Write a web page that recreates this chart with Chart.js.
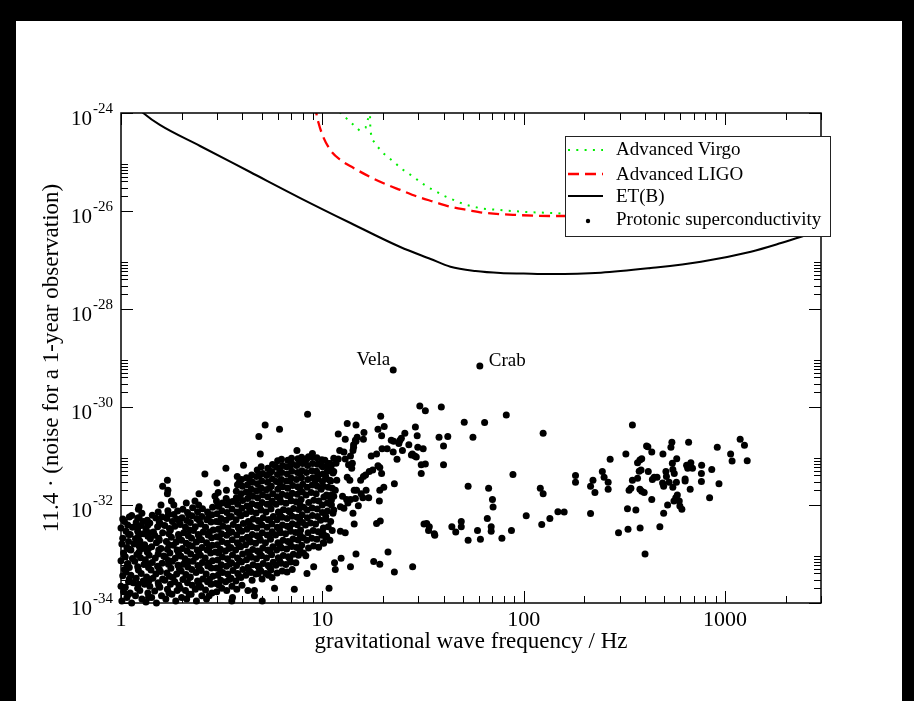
<!DOCTYPE html>
<html>
<head>
<meta charset="utf-8">
<script src="https://cdn.jsdelivr.net/npm/chart.js@4.4.1/dist/chart.umd.min.js"></script>
<style>
html,body{margin:0;padding:0;background:#fff;}
canvas{display:block;}
</style>
</head>
<body>
<canvas id="myChart" width="914" height="701"></canvas>
<script>
// detector noise curves, [frequency Hz, strain]
const virgoCurve = [[11.8,1.5e-24],[12.3,1e-24],[13.3,7.5e-25],[14.3,5.7e-25],[15.3,4.4e-25],[16.4,5e-25],[16.8,7.2e-25],[17.13,9.1e-25],[17.22,1.4e-24],[17.33,4.3e-25],[17.7,2.9e-25],[18.7,2.12e-25],[19.95,1.55e-25],[21.4,1.22e-25],[23.1,9.4e-26],[24.6,7.4e-26],[26.7,5.9e-26],[29,4.65e-26],[31.3,3.67e-26],[33.8,2.99e-26],[36.9,2.48e-26],[40.1,2.05e-26],[43.7,1.76e-26],[47.7,1.51e-26],[52,1.33e-26],[57,1.21e-26],[63,1.11e-26],[69,1.08e-26],[76,1.05e-26],[83.5,1.01e-26],[92.3,9.86e-27],[101,9.55e-27],[112,9.4e-27],[122,9.3e-27],[135,9.1e-27],[148,9e-27],[162,8.6e-27],[250,8.5e-27],[500,1e-26],[1000,1.5e-26]];
const ligoCurve = [[9.25,1.5e-24],[9.34,1e-24],[9.58,6.25e-25],[10.1,3.28e-25],[10.96,1.76e-25],[12.3,1.1e-25],[14.3,7.55e-26],[17.3,4.94e-26],[21.1,3.4e-26],[24.4,2.69e-26],[29.7,1.96e-26],[35.7,1.55e-26],[43.3,1.22e-26],[52.6,1.05e-26],[63.2,9.23e-27],[93.3,8.28e-27],[136,7.91e-27],[242,7.9e-27],[500,1e-26],[1000,1.6e-26]];
const etCurve = [[1.22,1.25e-24],[1.29,1e-24],[1.56,5.7e-25],[2.47,2.12e-25],[4.38,6.25e-26],[7.77,1.84e-26],[13.8,5.69e-27],[24.4,1.84e-27],[34.5,1.05e-27],[43.3,7.29e-28],[57.7,5.97e-28],[76.8,5.43e-28],[100,5.3e-28],[136,5.18e-28],[242,5.51e-28],[428,6.87e-28],[760,9.23e-28],[1346,1.48e-27],[1900,2.22e-27],[2390,2.99e-27],[3000,4.09e-27]];

// pulsars, [frequency Hz, strain]
const pulsarsLowFreq = [
[1.01,1.1e-34],[1.03,1.7e-34],[1.0,2.2e-34],[1.02,3.6e-34],[1.04,4.8e-34],[1.0,7.3e-34],[1.03,1.05e-33],[1.01,1.6e-33],[1.02,2.1e-33],[1.0,3.4e-33],[1.04,4.6e-33],
[1.07,1.3e-34],[1.05,2.1e-34],[1.09,2.7e-34],[1.06,4.3e-34],[1.08,6.4e-34],[1.05,8.8e-34],[1.07,1.35e-33],[1.09,1.8e-33],[1.06,2.9e-33],[1.08,3.9e-33],[1.1,5.7e-33],
[1.13,1e-34],[1.11,1.6e-34],[1.15,2.6e-34],[1.12,3.7e-34],[1.1,5.3e-34],[1.14,8.1e-34],[1.12,1.2e-33],[1.16,1.6e-33],[1.11,2.5e-33],[1.14,3.5e-33],[1.13,6.1e-33],
[1.18,1.4e-34],[1.21,2e-34],[1.19,3.2e-34],[1.22,4.7e-34],[1.17,7.1e-34],[1.2,9.8e-34],[1.23,1.45e-33],[1.18,2.05e-33],[1.21,2.9e-33],[1.19,4.4e-33],
[1.27,1.2e-34],[1.24,1.8e-34],[1.29,2.8e-34],[1.26,4e-34],[1.3,6.1e-34],[1.25,8.4e-34],[1.28,1.3e-33],[1.24,1.85e-33],[1.29,2.6e-33],[1.26,3.8e-33],[1.23,5.5e-33],[1.27,6.8e-33],
[1.33,1.05e-34],[1.36,1.6e-34],[1.31,2.4e-34],[1.34,3.4e-34],[1.37,5.3e-34],[1.32,7.6e-34],[1.35,1.1e-33],[1.31,1.55e-33],[1.36,2.3e-33],[1.33,3.3e-33],[1.35,4.9e-33],
[1.42,1.3e-34],[1.39,2.2e-34],[1.44,3.2e-34],[1.41,4.7e-34],[1.43,6.7e-34],[1.38,9.4e-34],[1.42,1.4e-33],[1.4,2.05e-33],[1.45,2.8e-33],[1.39,4.3e-33],[1.43,6.2e-33],
[1.5,1e-34],[1.47,1.75e-34],[1.53,2.6e-34],[1.49,3.9e-34],[1.52,5.6e-34],[1.48,8.3e-34],[1.54,1.2e-33],[1.5,1.7e-33],[1.47,2.4e-33],[1.52,3.6e-33],[1.49,5.4e-33],[1.53,7.2e-33],
[1.59,1.4e-34],[1.56,2.1e-34],[1.61,3.1e-34],[1.57,4.4e-34],[1.6,6.5e-34],[1.63,9.1e-34],[1.58,1.3e-33],[1.55,1.9e-33],[1.61,2.7e-33],[1.57,4.1e-33],[1.6,5.7e-33],
[1.67,1.2e-34],[1.7,1.9e-34],[1.65,2.9e-34],[1.69,4.1e-34],[1.72,6.2e-34],[1.66,8.7e-34],[1.7,1.25e-33],[1.68,1.8e-33],[1.73,2.6e-33],[1.65,3.8e-33],[1.69,5.3e-33],[1.71,7.6e-33],
[1.79,1.5e-34],[1.76,2.4e-34],[1.81,3.3e-34],[1.77,5.1e-34],[1.8,7.1e-34],[1.75,1.05e-33],[1.82,1.5e-33],[1.78,2.2e-33],[1.76,3.1e-33],[1.8,4.6e-33],[1.83,6.4e-33],
[1.87,1.1e-34],[1.9,1.8e-34],[1.85,2.7e-34],[1.89,3.9e-34],[1.92,5.9e-34],[1.86,8.2e-34],[1.9,1.2e-33],[1.88,1.75e-33],[1.93,2.5e-33],[1.85,3.7e-33],[1.89,5.2e-33],[1.91,7.5e-33],
[2.0,1.3e-34],[1.97,2e-34],[2.03,3e-34],[1.99,4.5e-34],[2.04,6.2e-34],[1.98,9.1e-34],[2.02,1.3e-33],[2.0,1.9e-33],[2.05,2.7e-33],[1.97,4e-33],[2.01,5.5e-33],[2.03,8.2e-33],
[2.12,1.2e-34],[2.09,1.8e-34],[2.14,2.6e-34],[2.1,3.8e-34],[2.15,5.4e-34],[2.08,8e-34],[2.13,1.15e-33],[2.11,1.65e-33],[2.16,2.35e-33],[2.09,3.5e-33],[2.12,4.8e-33],[2.14,7e-33],
[2.23,1.5e-34],[2.26,2.3e-34],[2.21,3.4e-34],[2.25,4.8e-34],[2.28,7.1e-34],[2.22,1e-33],[2.26,1.45e-33],[2.24,2.1e-33],[2.29,3e-33],[2.21,4.4e-33],[2.25,6e-33],[2.27,8.8e-33],
[2.37,1.1e-34],[2.34,1.9e-34],[2.4,2.8e-34],[2.36,4.2e-34],[2.41,5.8e-34],[2.35,8.6e-34],[2.39,1.2e-33],[2.37,1.75e-33],[2.42,2.5e-33],[2.34,3.6e-33],[2.38,5.3e-33],[2.4,7.3e-33],
[2.52,1.4e-34],[2.49,2.1e-34],[2.55,3.1e-34],[2.5,4.6e-34],[2.54,6.7e-34],[2.48,9.4e-34],[2.53,1.35e-33],[2.51,1.95e-33],[2.56,2.8e-33],[2.49,4.1e-33],[2.52,5.8e-33],[2.54,8.4e-33],
[2.66,1.2e-34],[2.63,1.85e-34],[2.69,2.7e-34],[2.65,3.9e-34],[2.7,5.7e-34],[2.62,8.3e-34],[2.68,1.2e-33],[2.66,1.7e-33],[2.71,2.45e-33],[2.63,3.5e-33],[2.67,5e-33],[2.69,7.2e-33],
[2.83,1.6e-34],[2.8,2.4e-34],[2.86,3.5e-34],[2.81,5.2e-34],[2.85,7.3e-34],[2.79,1.05e-33],[2.84,1.5e-33],[2.82,2.15e-33],[2.87,3.1e-33],[2.8,4.5e-33],[2.83,6.3e-33],[2.85,9e-33],
[2.99,1.7e-34],[2.96,2.5e-34],[3.03,3.7e-34],[2.98,5.2e-34],[3.02,7.5e-34],[2.95,1.1e-33],[3.01,1.55e-33],[2.99,2.25e-33],[3.04,3.2e-33],[2.97,4.6e-33],[3.0,6.6e-33],[3.02,9.4e-33],[2.98,1.2e-32],
[3.17,2e-34],[3.13,2.9e-34],[3.2,4.2e-34],[3.15,6e-34],[3.19,8.7e-34],[3.12,1.25e-33],[3.18,1.8e-33],[3.16,2.6e-33],[3.21,3.7e-33],[3.14,5.3e-33],[3.17,7.6e-33],[3.19,1.1e-32],
[3.35,1.8e-34],[3.31,2.7e-34],[3.39,3.9e-34],[3.34,5.6e-34],[3.38,8e-34],[3.3,1.15e-33],[3.37,1.65e-33],[3.35,2.4e-33],[3.4,3.4e-33],[3.32,4.9e-33],[3.36,7e-33],[3.38,1e-32],[3.33,1.35e-32],
[3.56,2.2e-34],[3.52,3.2e-34],[3.6,4.6e-34],[3.54,6.6e-34],[3.58,9.5e-34],[3.51,1.35e-33],[3.57,1.95e-33],[3.55,2.8e-33],[3.61,4e-33],[3.53,5.8e-33],[3.56,8.3e-33],[3.59,1.18e-32],
[3.76,1.9e-34],[3.72,2.8e-34],[3.8,4e-34],[3.75,5.8e-34],[3.79,8.3e-34],[3.71,1.2e-33],[3.78,1.7e-33],[3.76,2.45e-33],[3.82,3.5e-33],[3.73,5e-33],[3.77,7.2e-33],[3.8,1.03e-32],[3.74,1.4e-32],[3.74,1.9e-32],[3.79,2.6e-32],
[3.99,2.3e-34],[3.94,3.3e-34],[4.03,4.8e-34],[3.97,6.9e-34],[4.02,1e-33],[3.93,1.4e-33],[4.0,2e-33],[3.98,2.9e-33],[4.05,4.2e-33],[3.95,6e-33],[3.99,8.6e-33],[4.02,1.23e-32],[3.96,1.7e-32],[4.01,2.4e-32],[3.97,3.3e-32],
[4.17,3.7e-34],[4.27,5.3e-34],[4.2,7.6e-34],[4.26,1.1e-33],[4.16,1.55e-33],[4.24,2.2e-33],[4.22,3.2e-33],[4.29,4.6e-33],[4.18,6.6e-33],[4.23,9.5e-33],[4.26,1.35e-32],[4.19,1.85e-32],[4.25,2.6e-32],[4.2,3.6e-32],
[4.48,2.9e-34],[4.42,4.2e-34],[4.53,6e-34],[4.45,8.6e-34],[4.51,1.23e-33],[4.41,1.75e-33],[4.49,2.5e-33],[4.47,3.6e-33],[4.54,5.2e-33],[4.43,7.4e-33],[4.48,1.06e-32],[4.51,1.5e-32],[4.44,2.1e-32],[4.5,2.9e-32],[4.46,4.1e-32],
[4.67,3.9e-34],[4.79,5.6e-34],[4.71,8e-34],[4.77,1.15e-33],[4.66,1.65e-33],[4.75,2.35e-33],[4.73,3.4e-33],[4.8,4.8e-33],[4.69,6.9e-33],[4.74,9.9e-33],[4.77,1.4e-32],[4.7,1.95e-32],[4.76,2.7e-32],[4.71,3.8e-32],[4.75,5.2e-32],
[5.02,3.1e-34],[4.95,4.5e-34],[5.08,6.4e-34],[4.99,9.2e-34],[5.06,1.32e-33],[4.93,1.9e-33],[5.03,2.7e-33],[5.01,3.9e-33],[5.09,5.5e-33],[4.96,7.9e-33],[5.02,1.13e-32],[5.05,1.6e-32],[4.98,2.2e-32],[5.0,3.1e-32],[5.06,4.4e-32],[4.97,6e-32],
[5.24,4e-34],[5.38,5.8e-34],[5.28,8.3e-34],[5.36,1.2e-33],[5.22,1.7e-33],[5.33,2.45e-33],[5.31,3.5e-33],[5.39,5e-33],[5.25,7.2e-33],[5.32,1.03e-32],[5.35,1.47e-32],[5.27,2.05e-32],[5.34,2.9e-32],[5.29,4e-32],[5.36,5.6e-32],
[5.63,3.3e-34],[5.55,4.7e-34],[5.7,6.8e-34],[5.6,9.7e-34],[5.68,1.4e-33],[5.53,2e-33],[5.64,2.85e-33],[5.62,4.1e-33],[5.71,5.8e-33],[5.56,8.3e-33],[5.63,1.2e-32],[5.67,1.7e-32],[5.58,2.4e-32],[5.65,3.4e-32],[5.6,4.8e-32],[5.66,6.7e-32],
[5.96,4.1e-34],[5.88,5.9e-34],[6.04,8.4e-34],[5.93,1.2e-33],[6.02,1.7e-33],[5.86,2.45e-33],[5.98,3.5e-33],[5.96,5e-33],[6.05,7.2e-33],[5.89,1.03e-32],[5.97,1.47e-32],[6.01,2.1e-32],[5.91,3e-32],[5.99,4.2e-32],[5.92,5.9e-32],[6.0,8e-32],
[6.32,4.5e-34],[6.23,6.5e-34],[6.4,9.3e-34],[6.28,1.33e-33],[6.38,1.9e-33],[6.21,2.7e-33],[6.34,3.9e-33],[6.31,5.6e-33],[6.41,8e-33],[6.24,1.15e-32],[6.32,1.65e-32],[6.36,2.35e-32],[6.26,3.3e-32],[6.29,4.6e-32],[6.35,6.4e-32],[6.27,8.6e-32],
[6.68,4.3e-34],[6.59,6.1e-34],[6.78,8.8e-34],[6.65,1.26e-33],[6.75,1.8e-33],[6.57,2.6e-33],[6.7,3.7e-33],[6.68,5.3e-33],[6.79,7.6e-33],[6.6,1.09e-32],[6.69,1.56e-32],[6.73,2.2e-32],[6.63,3.1e-32],[6.7,4.3e-32],[6.64,6e-32],[6.74,8.2e-32],
[7.09,4.8e-34],[6.98,6.9e-34],[7.18,9.9e-34],[7.05,1.42e-33],[7.15,2.03e-33],[6.96,2.9e-33],[7.1,4.15e-33],[7.08,5.9e-33],[7.2,8.5e-33],[7.0,1.22e-32],[7.09,1.74e-32],[7.13,2.5e-32],[7.02,3.5e-32],[7.05,4.9e-32],[7.12,6.8e-32],[7.03,9e-32],
[7.39,6.6e-34],[7.61,9.4e-34],[7.46,1.35e-33],[7.58,1.93e-33],[7.37,2.75e-33],[7.52,3.95e-33],[7.5,5.6e-33],[7.63,8.1e-33],[7.41,1.16e-32],[7.51,1.66e-32],[7.55,2.35e-32],[7.44,3.3e-32],[7.53,4.6e-32],[7.46,6.4e-32],[7.56,8.8e-32],
[8.06,1.05e-33],[7.9,1.5e-33],[8.03,2.15e-33],[7.8,3.1e-33],[7.97,4.4e-33],[7.94,6.3e-33],[8.08,9e-33],[7.85,1.29e-32],[7.95,1.85e-32],[8.0,2.65e-32],[7.88,3.6e-32],[7.92,5e-32],[7.98,7e-32],[7.89,9.4e-32],
[8.28,9.2e-34],[8.54,1.32e-33],[8.37,1.9e-33],[8.5,2.7e-33],[8.25,3.9e-33],[8.43,5.5e-33],[8.41,7.9e-33],[8.56,1.13e-32],[8.31,1.6e-32],[8.42,2.3e-32],[8.47,3.3e-32],[8.34,4.6e-32],[8.45,6.4e-32],[8.38,8.8e-32],
[9.05,1.45e-33],[8.87,2.1e-33],[9.01,3e-33],[8.74,4.3e-33],[8.93,6.1e-33],[8.91,8.7e-33],[9.07,1.25e-32],[8.8,1.8e-32],[8.92,2.55e-32],[8.97,3.6e-32],[8.88,5e-32],[8.95,7e-32],[8.85,9.5e-32],
[9.59,1.38e-33],[9.4,2e-33],[9.55,2.85e-33],[9.26,4.1e-33],[9.46,5.8e-33],[9.44,8.3e-33],[9.61,1.2e-32],[9.32,1.7e-32],[9.45,2.4e-32],[9.5,3.45e-32],[9.36,4.9e-32],[9.47,6.8e-32],[9.4,9.2e-32],
[10.16,1.65e-33],[9.96,2.4e-33],[10.12,3.4e-33],[9.81,4.9e-33],[10.02,7e-33],[10.0,1e-32],[10.18,1.45e-32],[9.87,2.1e-32],[10.01,3e-32],[10.06,4.3e-32],[10.04,6e-32],[9.95,8.4e-32],
[10.5,2.3e-33],[10.7,3.6e-33],[10.4,5.2e-33],[10.6,7.5e-33],[10.8,1.1e-32],[10.5,1.6e-32],[10.7,2.3e-32],[10.4,3.4e-32],[10.6,4.9e-32],[10.8,7e-32],
[11.2,3e-33],[11.0,4.6e-33],[11.3,6.8e-33],[11.1,1e-32],[11.4,1.5e-32],[11.2,2.2e-32],[11.0,3.1e-32],[11.3,4.5e-32],[11.1,6.5e-32],[11.4,9e-32],
[3.32,5.6e-32],[2.61,4.3e-32],[1.7,3.2e-32],[1.61,2.4e-32],[1.71,2e-32],[1.7,1.7e-32],[3.0,2.8e-32],[3.34,2e-32],[2.44,1.7e-32],[1.78,1.2e-32],[1.83,1e-32],[2.11,1.1e-32],[1.58,1e-32],[1.23,9.2e-33],[1.22,8.2e-33],[3.04,1.8e-32],[2.93,1.5e-32],[2.33,1.2e-32],[1.02,5.2e-33],[1.21,5.4e-33],[1.29,4.6e-33],
[8.45,7.1e-31],[5.2,4.3e-31],[6.13,3.5e-31],[4.84,2.5e-31],[4.92,1.1e-31],[7.48,1.3e-31],[4.06,6.5e-32],[3.78,3.8e-32],
[4.27,1.8e-34],[4.6,1.8e-34],[4.6,1.4e-34],[5.79,2e-34],[7.26,1.9e-34],[5.03,1.1e-34],[3.55,1.1e-34],[3.58,1.3e-34],[8.39,4e-34],[9.06,5.5e-34],[5.4,3.7e-34],[4.8,4e-34],
[8.93,1.13e-31],[8.54,9.7e-32],[8.24,8e-32],[9.96,6.3e-32],[10.9,7e-32],[11.4,4.8e-32],[9.5,4.1e-32],[9.2,2.8e-32],[11.1,1.26e-32],
[1.09,1.5e-34],[1.1,3.1e-34],[1.08,6.2e-34],[1.1,1.25e-33],[1.09,2.5e-33],
[1.22,2.4e-34],[1.21,5.5e-34],[1.23,1.1e-33],[1.22,2.3e-33],[1.21,3.4e-33],
[1.37,1.3e-34],[1.38,2.9e-34],[1.36,6.3e-34],[1.37,1.3e-33],[1.38,2.7e-33],[1.36,3.9e-33],
[1.54,2.3e-34],[1.55,4.9e-34],[1.53,1e-33],[1.54,2.1e-33],[1.55,4.4e-33],
[1.73,1.6e-34],[1.74,3.5e-34],[1.72,7.4e-34],[1.73,1.55e-33],[1.74,3.3e-33],[1.72,6.5e-33],
[1.94,2.3e-34],[1.95,5e-34],[1.93,1.05e-33],[1.94,2.2e-33],[1.95,4.6e-33],
[2.18,1.5e-34],[2.19,3.3e-34],[2.17,7e-34],[2.18,1.5e-33],[2.19,3.1e-33],[2.17,6.3e-33],
[2.44,2.4e-34],[2.45,5.2e-34],[2.43,1.1e-33],[2.44,2.3e-33],[2.45,4.8e-33],[2.43,1e-32],
[2.74,1.4e-34],[2.75,3e-34],[2.73,6.5e-34],[2.74,1.35e-33],[2.75,2.8e-33],[2.73,5.9e-33],
[3.07,2.3e-34],[3.08,5e-34],[3.06,1.05e-33],[3.07,2.2e-33],[3.08,4.5e-33],[3.06,9.5e-33],
[3.45,3e-34],[3.46,6.2e-34],[3.44,1.3e-33],[3.45,2.7e-33],[3.46,5.6e-33],[3.44,1.15e-32],
[3.87,3.5e-34],[3.88,7.3e-34],[3.86,1.5e-33],[3.87,3.2e-33],[3.88,6.6e-33],[3.86,1.4e-32],[3.87,2.9e-32],
[4.34,4.5e-34],[4.35,9.5e-34],[4.33,2e-33],[4.34,4.1e-33],[4.35,8.5e-33],[4.33,1.75e-32],[4.34,3.4e-32],
[4.87,5e-34],[4.88,1.05e-33],[4.86,2.2e-33],[4.87,4.6e-33],[4.88,9.6e-33],[4.86,2e-32],[4.87,4e-32],
[5.47,5.4e-34],[5.48,1.15e-33],[5.46,2.4e-33],[5.47,5e-33],[5.48,1.05e-32],[5.46,2.2e-32],[5.47,4.5e-32],
[6.14,7.2e-34],[6.15,1.5e-33],[6.13,3.1e-33],[6.14,6.5e-33],[6.15,1.35e-32],[6.13,2.8e-32],[6.14,5.5e-32],
[6.89,8e-34],[6.9,1.7e-33],[6.88,3.5e-33],[6.89,7.2e-33],[6.9,1.5e-32],[6.88,3.1e-32],[6.89,6.2e-32],
[7.73,1.2e-33],[7.74,2.5e-33],[7.72,5.1e-33],[7.73,1.05e-32],[7.74,2.2e-32],[7.72,4.4e-32],[7.73,8e-32]
];
const pulsarsMidFreq = [
[30.5,1.05e-30],[32.5,8.4e-31],[39,1e-30],[29,3.9e-31],[29.6,2.6e-31],[29.8,1.5e-31],[31.7,1.4e-31],[31,6.6e-32],[32.5,6.9e-32],[31,4.4e-32],[25.7,2.9e-31],[26.9,1.7e-31],[22.8,2.7e-32],[28.1,5.5e-34],[22.8,4.3e-34],[21.2,1.1e-33],[19.3,6.2e-34],[18,7e-34],[14.7,1e-33],[13.8,5.5e-34],[12.4,8.2e-34],[11.5,6.6e-34],[11.6,4.8e-34],[10.8,2e-34],
[50.7,4.9e-31],[64,4.8e-31],[82,6.9e-31],[56,2.4e-31],[38,2.4e-31],[42,2.5e-31],[40,1.6e-31],[40,6.6e-32],[88.5,4.2e-32],[53,2.4e-32],[67,2.2e-32],[70,1.3e-32],[70.5,9.1e-33],[66,5.3e-33],[69,3.6e-33],[69,2.9e-33],[87,3e-33],[78,2.1e-33],[61,2e-33],[59,3e-33],[53,1.9e-33],[49,4.6e-33],[49,3.6e-33],[46,2.8e-33],[44,3.6e-33],[36,2.6e-33],[36.2,2.4e-33],[34,3.6e-33],[33,4.2e-33],[32,4.1e-33],[33.7,3e-33],
[19.4,4.7e-33],[18.6,4.2e-33],[19.2,1.2e-32],[19.3,2e-32],[20.2,2.3e-32],[19.7,4.4e-32],[19.7,2.6e-31],[20.3,4e-31],[19.5,6.5e-31],[18.9,3.5e-31],[14.7,4.3e-31],[13.3,4.6e-31],[16.1,3e-31],[16,2.2e-31],[14.9,2.4e-31],[14.7,2e-31],[13,2.2e-31],[12,2.8e-31],[14.3,1.5e-31],
[24.3,2.1e-31],[24,1.8e-31],[22.6,2e-31],[22,2.1e-31],[24.7,2.3e-31],[21,1.4e-31],[19.8,1.4e-31],[22.5,1.2e-31],[23.5,8.6e-32],[25,1.3e-31],[28.8,1e-31],[28,1.1e-31],[29.3,9.5e-32],[27.7,1.05e-31],
[17.5,1e-31],[18.6,1.1e-31],[18.9,6.3e-32],[19.3,5.8e-32],[17.8,5.2e-32],[17.1,4.8e-32],[16.4,4.1e-32],[16,3.8e-32],[15.5,3.2e-32],[14.4,2e-32],[14.8,2e-32],[16.5,2e-32],[17,1.4e-32],[15.9,1.4e-32],[15.1,9.7e-33],[14.2,6.8e-33],[14.4,4.1e-33],[12.3,2.9e-33],[13,2.7e-33],[10.9,1.9e-33],[10.4,2.2e-33],[10.1,2.6e-33],
[12.8,8.6e-33],[13.2,1.3e-32],[13.4,1.1e-32],[12.3,9.2e-33],[12.6,1.5e-32],[13.8,1.3e-32],[14.6,1.35e-32],[15.6,1.7e-32],[13.7,3.2e-32],[13.3,3.7e-32],[13.5,6.6e-32],[14.1,7.1e-32],[14,5.6e-32],[13,8.7e-32],[12,8.7e-32],[12.2,1.3e-31],[12.8,1.2e-31],[13.8,1e-31],[14.2,1.3e-31],[14.3,1.7e-31],[14.6,2.1e-31],
[10.3,8.2e-32],[10.6,6.3e-32],[10.9,3.2e-32],[10.1,2.4e-32],[11.1,1.6e-32],[10.6,1.1e-32],[11.4,7.9e-33],[10.4,5.8e-33],[10.1,1.7e-33],[10.7,1.5e-32],[11.6,2e-32],[11.8,3.2e-32],[11.1,5.2e-32],[11.7,7.1e-32],[10.4,3.8e-32]
];
const pulsarsHighFreq = [
[125,2.9e-31],[347,4.3e-31],[121,2.2e-32],[125,1.7e-32],[103,6e-33],[123,4e-33],[135,5.3e-33],[148,7.3e-33],[159,7.2e-33],[181,4e-32],[181,2.9e-32],[215,2.4e-32],[215,6.7e-33],[221,3.2e-32],[226,1.8e-32],[246,4.8e-32],[251,3.7e-32],[263,2.9e-32],[263,2.1e-32],[269,8.6e-32],
[296,2.7e-33],[322,1.1e-31],[328,8.4e-33],[330,3.2e-33],[334,2e-32],[341,2.2e-32],[347,3.2e-32],[361,7.9e-33],[368,3.5e-32],[368,7.3e-32],[378,8.3e-32],[386,8.8e-32],[375,4.9e-32],[383,5.2e-32],[378,2.1e-32],[386,1.9e-32],[397,1.8e-32],[379,3.4e-33],[401,1e-33],
[408,1.6e-31],[414,1.55e-31],[416,4.8e-32],[433,1.2e-31],[433,1.3e-32],[436,3.3e-32],[445,3.7e-32],[460,3.7e-32],[475,3.6e-33],[492,1.1e-31],[490,2.8e-32],[496,2.4e-32],[496,6.8e-33],[509,4.8e-32],[512,3.8e-32],[519,1e-32],[528,2.9e-32],[539,1.5e-31],[545,1.9e-31],[548,7.1e-32],[551,5.3e-32],[551,2.3e-32],[560,4.4e-32],[558,1.2e-32],[570,1.4e-32],[574,2.9e-32],[576,8.8e-32],[580,1.6e-32],[593,1.2e-32],[597,9.5e-33],[611,8.2e-33],
[634,3.4e-32],[634,3.1e-32],[645,6.5e-32],[660,1.9e-31],[653,5.6e-32],[672,2.1e-32],[677,7.3e-32],[690,5.6e-32],[766,6.5e-32],[764,4.4e-32],[764,3e-32],[839,1.4e-32],[860,5.3e-32],[916,1.5e-31],[934,2.7e-32],[1067,1.1e-31],[1085,7.9e-32],[1190,2.2e-31],[1250,1.65e-31],[1290,8e-32]
];
const namedPulsarLabels = ['Vela', 'Crab'];
const namedPulsars = [[22.5,5.7e-30],[60.6,6.9e-30]];

const xTickLabels = [1, 10, 100, 1000];
const yTickLabels = [1e-24, 1e-26, 1e-28, 1e-30, 1e-32, 1e-34];

const SERIF = '"Liberation Serif", "Times New Roman", serif';
const toXY = arr => arr.map(p => ({x: p[0], y: p[1]}));

const data = {
  datasets: [
    {label: 'Advanced Virgo', data: toXY(virgoCurve), showLine: true, borderColor: '#00ee00', borderWidth: 2, borderDash: [2, 6.3], pointRadius: 0, fill: false},
    {label: 'Advanced LIGO', data: toXY(ligoCurve), showLine: true, borderColor: '#ff0000', borderWidth: 2.3, borderDash: [11, 6], pointRadius: 0, fill: false, cubicInterpolationMode: 'monotone'},
    {label: 'ET(B)', data: toXY(etCurve), showLine: true, borderColor: '#000000', borderWidth: 2, pointRadius: 0, fill: false, cubicInterpolationMode: 'monotone'},
    {label: 'Protonic superconductivity', data: toXY(pulsarsLowFreq.concat(pulsarsMidFreq, pulsarsHighFreq, namedPulsars)), showLine: false, pointRadius: 3.5, pointBorderWidth: 0, backgroundColor: '#000000', borderColor: '#000000', clip: false}
  ]
};

const paperPlugin = {
  id: 'paper',
  beforeDraw(chart) {
    const ctx = chart.ctx;
    ctx.save();
    ctx.fillStyle = '#ffffff';
    ctx.fillRect(0, 0, chart.width, chart.height);
    ctx.fillStyle = '#000000';
    ctx.fillRect(0, 0, chart.width, 21);
    ctx.fillRect(0, 0, 16, chart.height);
    ctx.fillRect(902, 0, chart.width - 902, chart.height);
    ctx.restore();
  },
  afterDatasetsDraw(chart) {
    const ctx = chart.ctx, a = chart.chartArea, xs = chart.scales.x, ys = chart.scales.y;
    ctx.save();
    ctx.strokeStyle = '#000';
    ctx.lineWidth = 1;
    ctx.beginPath();
    const xt = (v, len) => {
      const px = Math.round(xs.getPixelForValue(v)) + 0.5;
      ctx.moveTo(px, a.bottom); ctx.lineTo(px, a.bottom - len);
      ctx.moveTo(px, a.top); ctx.lineTo(px, a.top + len);
    };
    const yt = (v, len) => {
      const py = Math.round(ys.getPixelForValue(v)) + 0.5;
      ctx.moveTo(a.left, py); ctx.lineTo(a.left + len, py);
      ctx.moveTo(a.right, py); ctx.lineTo(a.right - len, py);
    };
    xTickLabels.forEach(d => {
      xt(d, 12);
      for (let k = 2; k <= 9; k++) if (k * d <= 3000) xt(k * d, 7);
    });
    yTickLabels.forEach(m => {
      yt(m, 12);
      for (let k = 2; k <= 9; k++) if (k * m <= 1.0001e-24) yt(k * m, 7);
    });
    ctx.stroke();
    ctx.lineWidth = 1.5;
    ctx.strokeRect(a.left, a.top, a.right - a.left, a.bottom - a.top);
    ctx.restore();
  },
  afterDraw(chart) {
    const ctx = chart.ctx, a = chart.chartArea, xs = chart.scales.x, ys = chart.scales.y;
    ctx.save();
    ctx.fillStyle = '#000';
    // x tick labels
    ctx.font = '22px ' + SERIF;
    ctx.textAlign = 'center';
    ctx.textBaseline = 'alphabetic';
    xTickLabels.forEach(v => ctx.fillText(String(v), xs.getPixelForValue(v), a.bottom + 23));
    // y tick labels 10^n
    yTickLabels.forEach(m => {
      const py = ys.getPixelForValue(m);
      ctx.font = '21px ' + SERIF;
      ctx.textAlign = 'right';
      ctx.fillText('10', 92, py + 12);
      ctx.font = '15px ' + SERIF;
      ctx.textAlign = 'left';
      ctx.fillText(String(Math.round(Math.log10(m))), 93, py);
    });
    // axis titles
    ctx.font = '23px ' + SERIF;
    ctx.textAlign = 'center';
    ctx.fillText('gravitational wave frequency / Hz', (a.left + a.right) / 2, 648);
    ctx.save();
    ctx.translate(52, (a.top + a.bottom) / 2);
    ctx.rotate(-Math.PI / 2);
    ctx.textBaseline = 'middle';
    ctx.fillText('11.4 \u00b7 (noise for a 1-year observation)', 0, 0);
    ctx.restore();
    // Vela and Crab
    ctx.font = '19px ' + SERIF;
    namedPulsars.forEach((p, i) => {
      const px = xs.getPixelForValue(p[0]), py = ys.getPixelForValue(p[1]);
      if (i === 0) { ctx.textAlign = 'right'; ctx.fillText(namedPulsarLabels[i], px - 3, py - 5); }
      else { ctx.textAlign = 'left'; ctx.fillText(namedPulsarLabels[i], px + 9, py); }
    });
    // legend box
    ctx.fillStyle = '#fff';
    ctx.fillRect(565, 136, 266, 100);
    ctx.strokeStyle = '#222';
    ctx.lineWidth = 1;
    ctx.strokeRect(565.5, 136.5, 265, 100);
    const rowsText = [155, 180, 202, 225];
    const rowsSym = [150, 174, 196, 221];
    ctx.font = '19px ' + SERIF;
    ctx.textAlign = 'left';
    chart.data.datasets.forEach((ds, i) => {
      ctx.save();
      if (ds.showLine) {
        ctx.strokeStyle = ds.borderColor;
        ctx.lineWidth = ds.borderWidth;
        ctx.setLineDash(ds.borderDash || []);
        ctx.beginPath();
        ctx.moveTo(568, rowsSym[i]);
        ctx.lineTo(603, rowsSym[i]);
        ctx.stroke();
      } else {
        ctx.fillStyle = '#000';
        ctx.beginPath();
        ctx.arc(588, rowsSym[i], 2.2, 0, Math.PI * 2);
        ctx.fill();
      }
      ctx.restore();
      ctx.fillStyle = '#000';
      ctx.fillText(ds.label, 616, rowsText[i]);
    });
    ctx.restore();
  }
};

const config = {
  type: 'scatter',
  data: data,
  options: {
    responsive: false,
    animation: false,
    devicePixelRatio: 1,
    layout: {padding: {left: 121, right: 93, top: 113, bottom: 98}},
    plugins: {legend: {display: false}, tooltip: {enabled: false}},
    scales: {
      x: {type: 'logarithmic', min: 1, max: 3000, display: false},
      y: {type: 'logarithmic', min: 1e-34, max: 1e-24, display: false}
    }
  },
  plugins: [paperPlugin]
};

const myChart = new Chart(document.getElementById('myChart'), config);
</script>
</body>
</html>
